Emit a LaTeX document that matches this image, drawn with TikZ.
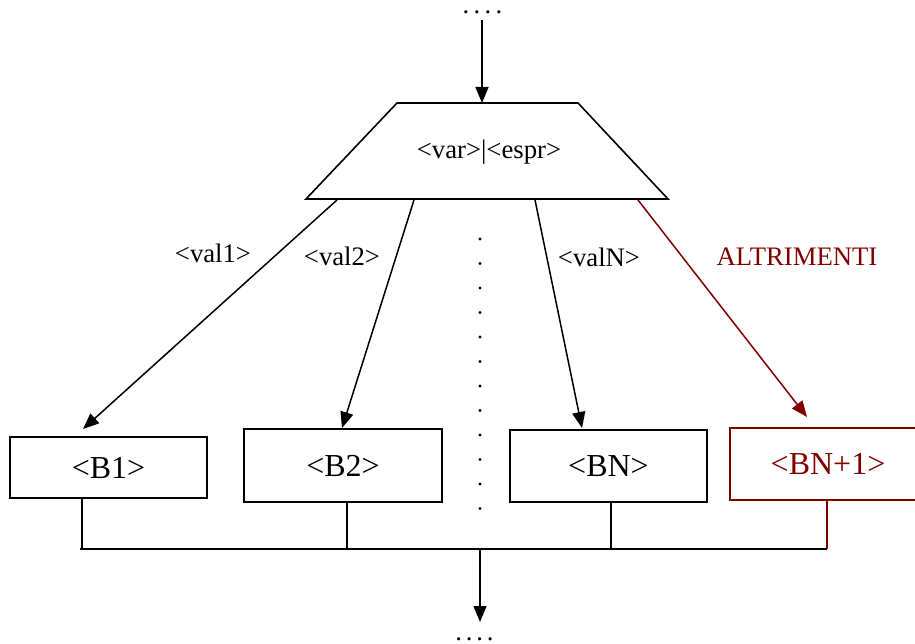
\documentclass[tikz,border=0pt]{standalone}
\usepackage{fontspec}
\setmainfont{Liberation Serif}
\usetikzlibrary{arrows.meta}
\definecolor{dred}{HTML}{800000}
\begin{document}
\begin{tikzpicture}[x=1pt,y=-1pt,
  ln/.style={line width=1.5pt},
  thin/.style={line width=1.2pt},
  arr/.style={ln, -{Triangle[length=16pt,width=13pt]}},
  blk/.style={draw, line width=1.6pt, minimum width=197pt, inner sep=0pt, font=\fontsize{32}{36}\selectfont},
  lbl/.style={font=\fontsize{26.7}{30}\selectfont, inner sep=0pt},
  dotsnode/.style={font=\fontsize{26.7}{30}\selectfont, inner sep=0pt, anchor=base, text height=3pt, text depth=0pt},
  vdot/.style={fill=black, draw=none}
]
\clip (0,0) rectangle (915,644);
\fill[white] (0,0) rectangle (915,644);

% top dots and input arrow
\node[dotsnode] (tdots) at (482.5,14) {.\kern4.3pt.\kern4.3pt.\kern4.3pt.};
\coordinate (tin) at (482,103);
\coordinate (tstart) at (482,20);
\draw[arr] (tstart) -- (tin);

% trapezoid
\coordinate (t1) at (397,103);
\coordinate (t2) at (578,103);
\coordinate (t3) at (668,199);
\coordinate (t4) at (306,199);
\draw[line width=1.6pt, line join=miter] (t1) -- (t2) -- (t3) -- (t4) -- cycle;
\node[lbl] (sel) at (489,152) {<var>|<espr>};

% blocks
\node[blk, minimum height=61pt] (B1) at (108.5,467.5) {<B1>};
\node[blk, minimum height=73pt, minimum width=198pt] (B2) at (343,465.5) {<B2>};
\node[blk, minimum height=72pt] (BN) at (608.5,466) {<BN>};
\node[blk, minimum height=72pt, minimum width=196pt, draw=dred, text=dred] (BN1) at (828,464) {<BN+1>};

% branch arrows
\coordinate (s1) at (337,200);
\coordinate (s2) at (414,200);
\coordinate (sN) at (535,200);
\coordinate (sE) at (638,200);
\coordinate (e1) at (83,429);
\coordinate (e2) at (342,428);
\coordinate (eN) at (582,428);
\coordinate (eE) at (807,417);
\draw[arr] (s1) -- (e1);
\draw[arr] (s2) -- (e2);
\draw[arr] (sN) -- (eN);
\draw[arr, draw=dred, fill=dred] (sE) -- (eE);

% branch labels
\node[lbl] (l1) at (213,253) {<val1>};
\node[lbl] (l2) at (342,256) {<val2>};
\node[lbl] (lN) at (599,257) {<valN>};
\node[lbl, text=dred] (lE) at (797,257) {ALTRIMENTI};

% vertical dots
\foreach \i in {0,...,11} {
  \fill[vdot] (480,239+24.5*\i) circle (1.7pt);
}

% join
\coordinate (j1) at (82,549);
\coordinate (j2) at (347,549);
\coordinate (jN) at (611,549);
\coordinate (jE) at (827,549);
\coordinate (jout) at (480,549);
\draw[thin] (B1.south -| j1) -- (j1);
\draw[thin] (B2.south -| j2) -- (j2);
\draw[thin] (BN.south -| jN) -- (jN);
\draw[thin, dred] (BN1.south -| jE) -- (jE);
\draw[ln] (80,549) -- (jE);

% output
\node[dotsnode] (bdots) at (474.5,640) {.\kern3.8pt.\kern3.8pt.\kern3.8pt.};
\coordinate (oend) at (480,622);
\draw[arr] (jout) -- (oend);
\end{tikzpicture}
\end{document}
